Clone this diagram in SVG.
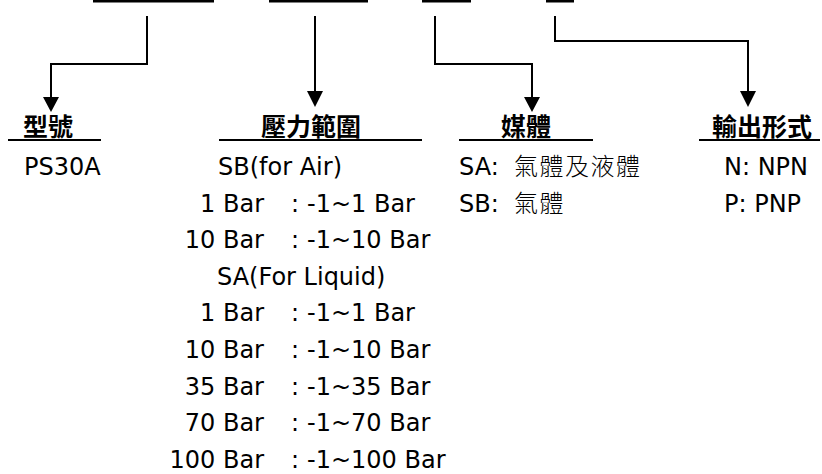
<svg xmlns="http://www.w3.org/2000/svg" width="822" height="474" viewBox="0 0 822 474">
<style>
.bar{fill:#000}
.ln{fill:none;stroke:#000;stroke-width:2}
.ul{stroke:#000;stroke-width:2.2}
.hd{font-family:"Noto Sans CJK TC","Noto Sans CJK SC",sans-serif;font-size:25px;font-weight:bold;fill:#000;text-anchor:middle}
.tx{font-family:"DejaVu Sans","Noto Sans CJK TC",sans-serif;font-size:24px;fill:#000}
.cj{font-family:"Noto Sans CJK TC",sans-serif;font-size:24px;font-weight:300;fill:#000;letter-spacing:1.5px}
.e{text-anchor:end}
</style>
<g id="topbars">
<rect class="bar" x="93" y="0" width="121" height="2.5"/>
<rect class="bar" x="269" y="0" width="99" height="2.5"/>
<rect class="bar" x="422" y="0" width="49" height="2.5"/>
<rect class="bar" x="546" y="0" width="28" height="2.5"/>
</g>
<g id="connectors">
<path class="ln" d="M147,16 V64 H51 V97"/>
<path class="bar" d="M43,97 H59 L51,112 Z"/>
<path class="ln" d="M315,16 V91"/>
<path class="bar" d="M307,91 H323 L315,107 Z"/>
<path class="ln" d="M435,16 V64 H532 V97"/>
<path class="bar" d="M524,97 H540 L532,112 Z"/>
<path class="ln" d="M555,16 V41 H748 V91"/>
<path class="bar" d="M740,91 H756 L748,107 Z"/>
</g>
<g id="model">
<text class="hd" x="48" y="136">型號</text>
<line class="ul" x1="8" y1="140" x2="101" y2="140"/>
<text class="tx" x="24" y="175">PS30A</text>
</g>
<g id="pressure">
<text class="hd" x="311" y="136">壓力範圍</text>
<line class="ul" x1="219" y1="140" x2="422" y2="140"/>
<text class="tx" x="218" y="175">SB(for Air)</text>
<text class="tx e" x="264" y="211.6">1 Bar</text><text class="tx" x="291" y="211.6">:</text><text class="tx" x="307" y="211.6">-1~1 Bar</text>
<text class="tx e" x="264" y="248.2">10 Bar</text><text class="tx" x="291" y="248.2">:</text><text class="tx" x="307" y="248.2">-1~10 Bar</text>
<text class="tx" x="217" y="284.8">SA(For Liquid)</text>
<text class="tx e" x="264" y="321.4">1 Bar</text><text class="tx" x="291" y="321.4">:</text><text class="tx" x="307" y="321.4">-1~1 Bar</text>
<text class="tx e" x="264" y="358">10 Bar</text><text class="tx" x="291" y="358">:</text><text class="tx" x="307" y="358">-1~10 Bar</text>
<text class="tx e" x="264" y="394.6">35 Bar</text><text class="tx" x="291" y="394.6">:</text><text class="tx" x="307" y="394.6">-1~35 Bar</text>
<text class="tx e" x="264" y="431.2">70 Bar</text><text class="tx" x="291" y="431.2">:</text><text class="tx" x="307" y="431.2">-1~70 Bar</text>
<text class="tx e" x="264" y="467.8">100 Bar</text><text class="tx" x="291" y="467.8">:</text><text class="tx" x="307" y="467.8">-1~100 Bar</text>
</g>
<g id="medium">
<text class="hd" x="526" y="136">媒體</text>
<line class="ul" x1="459" y1="140" x2="593" y2="140"/>
<text class="tx" x="459" y="175">SA:</text><text class="cj" x="514" y="175">氣體及液體</text>
<text class="tx" x="459" y="211.6">SB:</text><text class="cj" x="514" y="211.6">氣體</text>
</g>
<g id="output">
<text class="hd" x="762" y="136">輸出形式</text>
<line class="ul" x1="699" y1="140" x2="820" y2="140"/>
<text class="tx" x="724" y="175">N: NPN</text>
<text class="tx" x="724" y="211.6">P: PNP</text>
</g>
</svg>
